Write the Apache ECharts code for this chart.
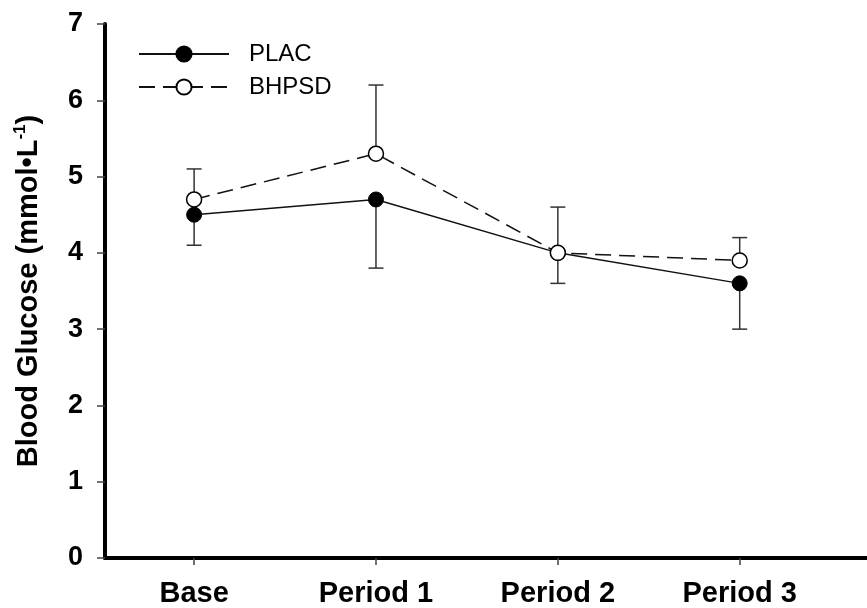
<!DOCTYPE html>
<html lang="en">
<head>
    <meta charset="UTF-8">
    <title>Blood Glucose</title>
    <script src="https://cdn.jsdelivr.net/npm/echarts@6/dist/echarts.min.js"></script>
    <style>
        html, body { margin: 0; height: 100%; background: #fff; }
        #main { width: 867px; height: 608px; }
    </style>
</head>
<body>
<div id="main"></div>
<script type="text/javascript">
// data
var categories = ['Base', 'Period 1', 'Period 2', 'Period 3'];
var placMean = [4.5, 4.7, 4.0, 3.6];
var placSD = [0.4, 0.9, 0.4, 0.6];
var bhpsdMean = [4.7, 5.3, 4.0, 3.9];
var bhpsdSD = [0.4, 0.9, 0.6, 0.3];
var yTicks = [0, 1, 2, 3, 4, 5, 6, 7];

var font = 'Liberation Sans, Arial, sans-serif';
var chart = echarts.init(document.getElementById('main'));

function pts(mean) {
    return mean.map(function (v, i) { return [i, v]; });
}
// error bars: PLAC goes down, BHPSD goes up
var placErr = placMean.map(function (v, i) { return [i, v, v - placSD[i]]; });
var bhpsdErr = bhpsdMean.map(function (v, i) { return [i, v, v + bhpsdSD[i]]; });

function renderErr(params, api) {
    var x = api.value(0);
    var p0 = api.coord([x, api.value(1)]);
    var p1 = api.coord([x, api.value(2)]);
    var hw = 7.5;
    var st = { stroke: '#333', lineWidth: 1.5 };
    return {
        type: 'group',
        children: [
            { type: 'line', shape: { x1: p0[0], y1: p0[1], x2: p1[0], y2: p1[1] }, style: st },
            { type: 'line', shape: { x1: p1[0] - hw, y1: p1[1], x2: p1[0] + hw, y2: p1[1] }, style: st }
        ]
    };
}

var option = {
    animation: false,
    textStyle: { fontFamily: font },
    grid: { left: 105, right: 0, top: 24, bottom: 49 },
    legend: {
        orient: 'vertical',
        left: 133,
        top: 37,
        itemWidth: 90,
        itemHeight: 19,
        itemGap: 9,
        textStyle: { fontSize: 24, color: '#000', fontFamily: font, padding: [0, 0, 0, 15] },
        data: ['PLAC', 'BHPSD']
    },
    xAxis: {
        type: 'value',
        min: -0.49,
        max: 3.7,
        splitLine: { show: false },
        axisLine: { onZero: false, lineStyle: { color: '#000', width: 4 } },
        axisTick: { show: true, length: 7, customValues: [0, 1, 2, 3], lineStyle: { color: '#444', width: 1.5 } },
        axisLabel: {
            customValues: [0, 1, 2, 3],
            formatter: function (v) { return categories[Math.round(v)]; },
            fontSize: 29, fontWeight: 'bold', color: '#000', margin: 21
        }
    },
    yAxis: {
        type: 'value',
        min: yTicks[0],
        max: yTicks[yTicks.length - 1],
        interval: 1,
        splitLine: { show: false },
        axisLine: { show: true, onZero: false, lineStyle: { color: '#000', width: 4 } },
        axisTick: { show: true, length: 8, lineStyle: { color: '#444', width: 1.5 } },
        axisLabel: { fontSize: 27, fontWeight: 'bold', color: '#000', margin: 22 },
        name: '{a|Blood Glucose (mmol•L}{s|-1}{a|)}',
        nameLocation: 'middle',
        nameRotate: 90,
        nameGap: 59,
        nameTextStyle: {
            rich: {
                a: { fontSize: 29, fontWeight: 'bold', color: '#000', fontFamily: font, lineHeight: 34 },
                s: { fontSize: 17, fontWeight: 'bold', color: '#000', fontFamily: font, verticalAlign: 'top', lineHeight: 17 }
            }
        }
    },
    series: [
        {
            type: 'custom',
            name: 'PLAC err',
            renderItem: renderErr,
            data: placErr,
            encode: { x: 0, y: [1, 2] },
            z: 1,
            silent: true
        },
        {
            type: 'custom',
            name: 'BHPSD err',
            renderItem: renderErr,
            data: bhpsdErr,
            encode: { x: 0, y: [1, 2] },
            z: 1,
            silent: true
        },
        {
            name: 'PLAC',
            type: 'line',
            data: pts(placMean),
            symbol: 'circle',
            symbolSize: 15,
            z: 3,
            lineStyle: { color: '#111', width: 1.5, type: 'solid' },
            itemStyle: { color: '#000', borderColor: '#000', borderWidth: 1 }
        },
        {
            name: 'BHPSD',
            type: 'line',
            data: pts(bhpsdMean),
            symbol: 'circle',
            symbolSize: 15,
            z: 4,
            lineStyle: { color: '#111', width: 1.5, type: [16, 8] },
            itemStyle: { color: '#fff', borderColor: '#000', borderWidth: 1.5 }
        }
    ]
};
chart.setOption(option);
</script>
</body>
</html>
